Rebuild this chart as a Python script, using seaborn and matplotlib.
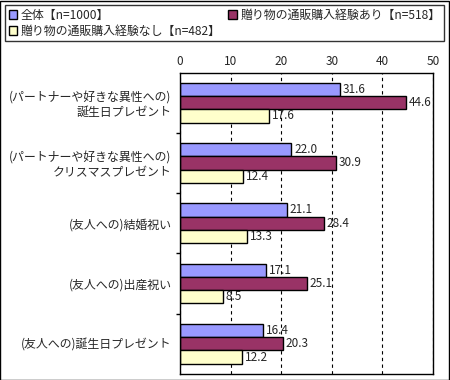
import matplotlib
matplotlib.use("Agg")
import matplotlib.pyplot as plt
import matplotlib.patches as patches
import pandas as pd
import seaborn as sns

# chart data
categories = [
    "(パートナーや好きな異性への)\n誕生日プレゼント",
    "(パートナーや好きな異性への)\nクリスマスプレゼント",
    "(友人への)結婚祝い",
    "(友人への)出産祝い",
    "(友人への)誕生日プレゼント",
]
series = ["全体【n=1000】", "贈り物の通販購入経験あり【n=518】", "贈り物の通販購入経験なし【n=482】"]
all_vals = [31.6, 22.0, 21.1, 17.1, 16.4]
yes_vals = [44.6, 30.9, 28.4, 25.1, 20.3]
no_vals = [17.6, 12.4, 13.3, 8.5, 12.2]
colors = ["#9999FF", "#993366", "#FFFFCC"]
x_ticks = [0, 10, 20, 30, 40, 50]

rows = []
for s, vals in zip(series, [all_vals, yes_vals, no_vals]):
    for c, v in zip(categories, vals):
        rows.append({"category": c, "series": s, "value": v})
df = pd.DataFrame(rows)

sns.set_theme(style="white")
plt.rcParams["font.family"] = ["Noto Sans CJK JP", "DejaVu Sans"]

fig = plt.figure(figsize=(4.5, 3.8), dpi=100)
ax = fig.add_axes([0.4, 0.016, 0.562, 0.793])

sns.barplot(
    data=df, x="value", y="category", hue="series", order=categories,
    hue_order=series, palette=colors, orient="h", width=0.66,
    edgecolor="black", linewidth=1, saturation=1, ax=ax, legend=True,
)

for cont in ax.containers:
    ax.bar_label(cont, fmt="%.1f", padding=2, fontsize=8.5)

ax.set_xlim(0, 50)
ax.set_ylim(4.5, -0.5)
ax.set_xticks(x_ticks)
ax.xaxis.tick_top()
ax.tick_params(axis="x", length=0, labelsize=8.5, pad=3)
ax.tick_params(axis="y", which="major", length=0, labelsize=8.6, pad=6)
ax.set_yticks([0.5, 1.5, 2.5, 3.5], minor=True)
ax.tick_params(axis="y", which="minor", length=3, color="black", direction="out", left=True)
for lbl in ax.get_yticklabels():
    lbl.set_horizontalalignment("right")
    lbl.set_multialignment("right")
ax.grid(axis="x", linestyle=(0, (3, 3)), color="black", linewidth=0.8)
ax.set_axisbelow(True)
for sp in ax.spines.values():
    sp.set_color("black")
    sp.set_linewidth(1)
ax.set_xlabel("")
ax.set_ylabel("")

# legend: reorder so row 1 is 全体 / あり, row 2 is なし
handles, labels = ax.get_legend_handles_labels()
ax.get_legend().remove()
order = [0, 2, 1]
leg = fig.legend(
    [handles[i] for i in order], [labels[i] for i in order],
    loc="upper left", bbox_to_anchor=(0.011, 0.887, 0.976, 0.1), mode="expand",
    ncol=2, fontsize=8.6, frameon=True, fancybox=False, borderaxespad=0,
    handlelength=0.7, handleheight=0.7, handletextpad=0.3, labelspacing=0.25,
    borderpad=0.3, columnspacing=1.0,
)
leg.get_frame().set_edgecolor("black")
leg.get_frame().set_linewidth(1)

fig.patches.append(patches.Rectangle((0.001, 0.001), 0.997, 0.997, transform=fig.transFigure,
                                     fill=False, edgecolor="black", linewidth=1))

fig.savefig("out.png", dpi=100)
